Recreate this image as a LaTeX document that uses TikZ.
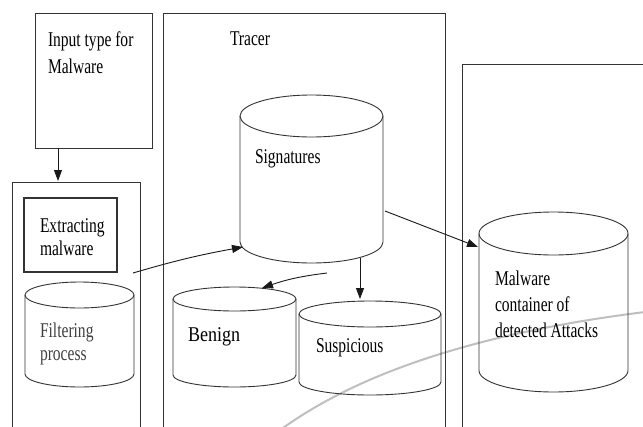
\documentclass[tikz,border=0pt]{standalone}
\usepackage{fontspec}
\setmainfont{Liberation Serif}[FakeStretch=0.74]
\newfontfamily\benignfont{Liberation Serif}[FakeStretch=0.86]
\usetikzlibrary{arrows.meta}

\tikzset{
  frame/.style={draw=black!80, line width=1pt, inner sep=0pt, outer sep=0pt, anchor=north west},
  storebox/.style={inner sep=0pt, outer sep=0pt},
  storeline/.style={draw=black!80, line width=0.9pt},
  label/.style={inner sep=0pt, outer sep=0pt, anchor=base west, align=left,
                font=\fontsize{21}{27}\selectfont},
  flow/.style={draw=black!90, line width=0.9pt, -{Triangle[length=11pt,width=8pt]}},
}

% outline of a data store drawn round a named box: #1 box, #2 half width, #3 end radius
\newcommand\drawstore[3]{%
  \draw[storeline] ([yshift=-#3 pt]#1.north west) -- ([yshift=#3 pt]#1.south west)
    arc[start angle=180, end angle=360, x radius=#2 pt, y radius=#3 pt]
    -- ([yshift=-#3 pt]#1.north east);
  \draw[storeline] ([yshift=-#3 pt]#1.north) ellipse[x radius=#2 pt, y radius=#3 pt];
}

\begin{document}
\begin{tikzpicture}[x=1pt,y=-1pt]
\clip (0,0) rectangle (643,426);
\fill[white] (0,0) rectangle (643,426);

% faint background arc
\draw[black!25, line width=2pt] (283,428) .. controls (350,380) and (460,335) .. (645,312);

% outer frames
\node[frame, minimum width=117, minimum height=135] (input) at (35,13) {};
\node[frame, minimum width=128, minimum height=270] (left) at (12,182) {};
\node[frame, minimum width=282, minimum height=440] (tracer) at (163,13) {};
\node[frame, minimum width=220, minimum height=400] (right) at (462,64) {};

% inner box
\node[frame, minimum width=93, minimum height=74, line width=1.2pt] (extract) at (24,198) {};

% data stores
\node[storebox, minimum width=143, minimum height=168] (sig) at (311.5,179) {};
\node[storebox, minimum width=109, minimum height=105] (filter) at (79.5,334.5) {};
\node[storebox, minimum width=123, minimum height=100] (benign) at (234.5,337) {};
\node[storebox, minimum width=142, minimum height=94] (susp) at (370,348) {};
\node[storebox, minimum width=149, minimum height=180] (mal) at (553.5,302) {};
\drawstore{sig}{71.5}{21}
\drawstore{filter}{54.5}{13}
\drawstore{benign}{61.5}{12}
\drawstore{susp}{71}{13}
\drawstore{mal}{74.5}{21.5}

% texts (anchored at the baseline of the last line)
\node[label] (tinput) at (48,73) {Input type for\\Malware};
\node[label] (ttracer) at (230,45) {Tracer};
\node[label] (tsig) at (255,163) {Signatures};
\node[label, font=\fontsize{21}{23}\selectfont] (textract) at (40,255) {Extracting\\malware};
\node[label, font=\fontsize{21}{23}\selectfont, text=black!75] (tfilter) at (40,360) {Filtering\\process};
\node[label, font=\benignfont\fontsize{21}{25}\selectfont] (tbenign) at (188,341) {Benign};
\node[label] (tsusp) at (316,352) {Suspicious};
\node[label, font=\fontsize{21}{26}\selectfont] (tmal) at (495,337) {Malware\\container of\\detected Attacks};

% connector end points
\coordinate (inOut) at (58,148);
\coordinate (leftIn) at (58,181);
\coordinate (exOut) at (133,273);
\coordinate (sigIn) at (243,247);
\coordinate (sigOutA) at (327,273);
\coordinate (benIn) at (262,288);
\coordinate (sigOutB) at (360,258);
\coordinate (susIn) at (360,299);
\coordinate (sigOutC) at (385,211);
\coordinate (malIn) at (478,247);

% connectors
\draw[flow] (inOut) -- (leftIn);
\draw[flow] (exOut) to[bend left=3] (sigIn);
\draw[flow] (sigOutA) to[bend right=6] (benIn);
\draw[flow] (sigOutB) -- (susIn);
\draw[flow] (sigOutC) -- (malIn);
\end{tikzpicture}
\end{document}
